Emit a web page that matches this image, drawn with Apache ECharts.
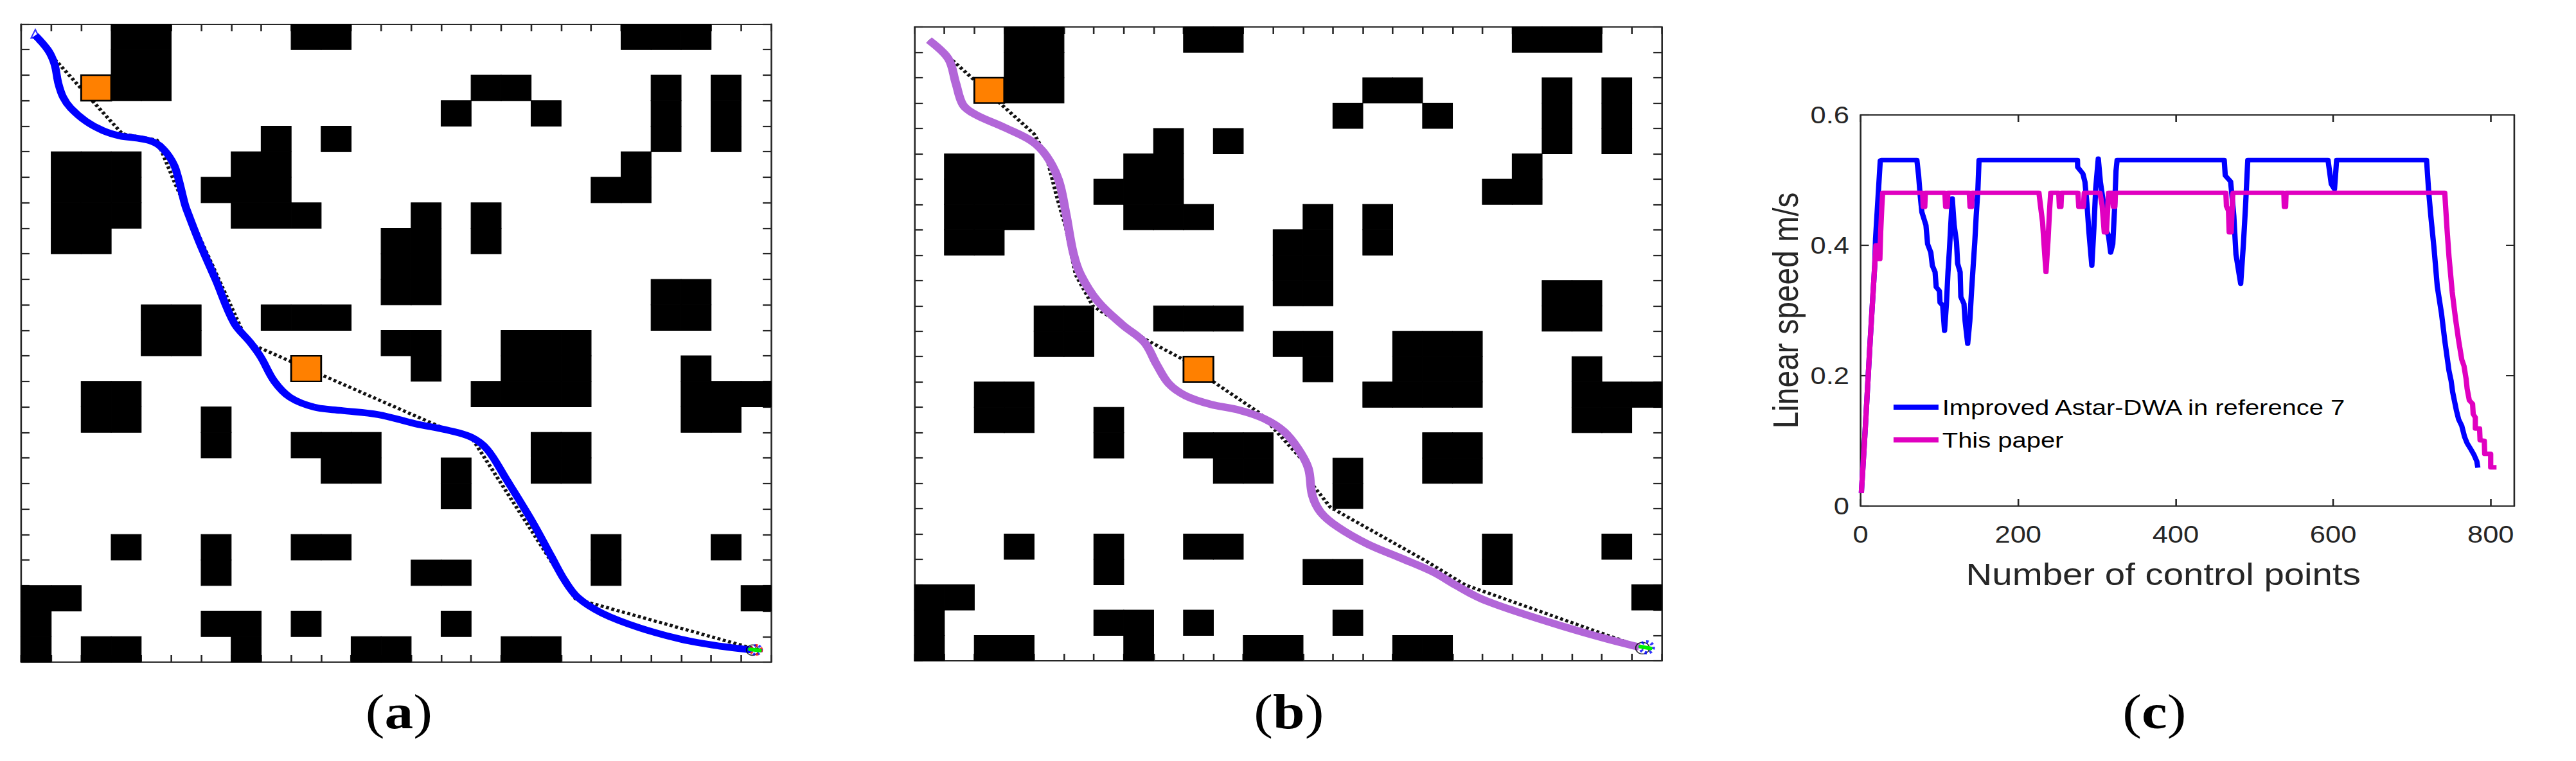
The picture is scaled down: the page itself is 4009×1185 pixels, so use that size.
<!DOCTYPE html>
<html>
<head>
<meta charset="utf-8">
<style>
html,body{margin:0;padding:0;background:#fff;overflow:hidden;width:4009px;height:1185px}
#chart{position:absolute;left:0;top:0;height:1185px;transform-origin:0 0}
</style>
<script src="https://cdn.jsdelivr.net/npm/echarts@6/dist/echarts.min.js"></script>
</head>
<body>
<div id="chart"></div>
<script>
// ---------- data ----------
const obstacleRows = [
"...##....##.........###..",
"...##....................",
"...##..........##....#.#.",
"..............#..#...#.#.",
"........#.#..........#.#.",
".###...##...........#....",
".###..###..........##....",
".###...###...#.#.........",
".##.........##.#.........",
"............##...........",
"............##.......##..",
"....##..###..........##..",
"....##......##..###......",
".............#..###...#..",
"..##...........####...###",
"..##..#...............##.",
"......#..###.....##......",
"..........##..#..##......",
"..............#..........",
".........................",
"...#..#..##........#...#.",
"......#......##....#.....",
"##......................#",
"#.....##.#....#..........",
"#.##...#...##...##......."
];
const orangeCells = [[2,22],[9,11]];

const trajectoryA = [[.47,24.56],[.90,23.97],[1.11,23.43],[1.24,22.67],[1.40,22.13],[1.65,21.71],[2.15,21.2],[2.72,20.83],[3.29,20.62],[3.86,20.53],[4.29,20.43],[4.61,20.24],[4.93,19.82],[5.15,19.32],[5.45,17.97],[5.51,17.75],[5.95,16.42],[6.48,14.99],[7.10,13.28],[7.64,12.52],[7.99,11.95],[8.44,11.0],[8.97,10.37],[9.77,9.99],[10.66,9.86],[11.9,9.70],[13.14,9.34],[14.21,9.09],[15.01,8.81],[15.54,8.33],[16.16,7.19],[17.05,5.48],[17.67,4.15],[18.12,3.2],[18.56,2.53],[19.36,1.92],[20.6,1.35],[22.02,.89],[23.27,.63],[24.33,.48]];
const globalPathA = [[.44,24.5],[3.37,20.7],[4.53,20.45],[5.15,18.7],[7.55,12.52],[14.03,9.19],[15.01,8.81],[18.47,2.49],[19.09,2.28],[24.69,.44]];
const trajectoryB = [[.48,24.48],[1.13,23.75],[1.38,22.79],[1.62,21.93],[2.03,21.55],[3.02,21.03],[3.92,20.5],[4.41,19.92],[4.82,18.97],[5.07,17.63],[5.31,16.1],[5.56,15.23],[6.13,14.18],[6.95,13.26],[7.69,12.56],[8.1,11.69],[8.51,10.93],[9.08,10.45],[9.9,10.12],[10.89,9.88],[11.7,9.55],[12.36,9.05],[12.85,8.34],[13.18,7.58],[13.31,6.53],[13.59,5.86],[14.16,5.28],[15.15,4.61],[16.3,4.04],[17.36,3.5],[18.1,2.99],[18.92,2.47],[20.07,1.97],[21.7,1.36],[23.18,.86],[24.25,.54]];
const globalPathB = [[.48,24.48],[1.3,23.65],[4.0,20.78],[4.41,19.92],[4.74,18.39],[5.07,17.05],[5.39,15.23],[5.97,13.99],[7.77,12.65],[9.0,11.88],[9.98,11.02],[11.54,9.78],[13.02,7.87],[13.34,6.91],[13.92,6.05],[17.11,3.94],[18.43,2.99],[24.41,.5]];
const startPointA = [[.47,24.62]];
const endPointA = [[24.5,.48]];
const goalBlobA = [[24.3,.5],[24.62,.46]];
const endPointB = [[24.5,.53]];
const goalBlobB = [[24.3,.56],[24.62,.49]];

const speedNames = ['Improved Astar-DWA in reference 7','This paper'];
const blueSpeed = [[1,.02],[6,.12],[12,.25],[18,.37],[19,.41],[21,.45],[23,.49],[25,.53],[26.2,.5307],[71.5,.5307],[73.7,.507],[75.6,.4775],[77.8,.451],[83,.431],[85.1,.402],[89.2,.389],[91.1,.369],[94.6,.359],[96,.336],[100.1,.33],[100.9,.312],[104.2,.308],[106.6,.269],[109,.31],[111,.359],[112.9,.395],[114.5,.431],[116.4,.472],[118.8,.431],[121.8,.405],[123.2,.372],[126.4,.359],[127.3,.321],[131.3,.31],[132.7,.284],[136,.249],[138.7,.284],[140.9,.33],[143,.369],[145,.405],[146.8,.445],[149,.487],[150.4,.5307],[275.4,.5307],[275.6,.52],[282.2,.51],[284.9,.497],[287.6,.461],[289.8,.422],[293.6,.369],[296.3,.428],[298.5,.487],[301.8,.533],[304.5,.497],[308,.468],[312.1,.422],[314.8,.415],[317.5,.389],[320.2,.402],[322.4,.454],[324.3,.514],[325.7,.5307],[461.7,.5307],[463,.507],[469.8,.498],[473.9,.445],[476.6,.386],[482.6,.341],[486.1,.403],[488.8,.461],[491.6,.5307],[593.5,.5307],[597.6,.494],[601.7,.486],[604.4,.5307],[718.6,.5307],[721.3,.482],[724,.445],[728.1,.395],[732.2,.337],[737.6,.295],[741.7,.254],[745.1,.2246],[747,.208],[749.8,.192],[751.7,.175],[754.4,.159],[756.6,.146],[759.3,.133],[763.3,.123],[766.9,.106],[770.1,.0965],[775,.0867],[778.8,.0785],[782.4,.0686],[783.7,.0588]];
const magentaSpeed = [[1,.02],[6,.12],[12,.25],[17,.35],[19.5,.40],[21.5,.40],[22.5,.379],[23.5,.40],[24.5,.379],[25.5,.42],[27,.46],[28,.4805],[78.8,.4805],[79.5,.459],[81.5,.459],[82.2,.4805],[107,.4805],[108,.459],[110,.459],[110.8,.4805],[138,.4805],[139,.459],[141,.459],[141.8,.4805],[226.5,.4805],[228.4,.461],[231.1,.435],[233.3,.395],[235.4,.359],[238,.408],[240,.455],[241.4,.4805],[251.6,.4805],[252.4,.459],[254.4,.459],[255.2,.4805],[276,.4805],[277,.459],[283,.459],[284,.4805],[303.9,.4805],[306.7,.461],[309.4,.42],[312.1,.42],[314.8,.4805],[320,.4805],[321,.459],[322.8,.459],[323.6,.4805],[463.8,.4805],[464.5,.46],[467.1,.453],[468,.42],[470.5,.42],[472.5,.478],[473,.4805],[537.4,.4805],[538,.459],[539.6,.459],[540.2,.4805],[741.7,.4805],[744.4,.428],[747.1,.382],[751.2,.328],[755.4,.287],[759.3,.254],[763.3,.2246],[766.1,.215],[768.8,.195],[770.1,.18],[772.9,.162],[777,.157],[777.8,.141],[780.5,.136],[780.5,.119],[785.9,.119],[786.5,.101],[791.9,.1],[792.4,.08],[800,.08],[800,.0594],[807.4,.0594]];
const speedXTicks = [0,200,400,600,800];
const speedYTicks = [0,0.2,0.4,0.6];
const panelCaptions = ['a','b','c'];

// ---------- layout ----------
const K = 1.1747;            // the reference figure is stretched horizontally
const PAGE_W = 4009, PAGE_H = 1185;
const el = document.getElementById('chart');
el.style.width = (PAGE_W / K) + 'px';
el.style.transform = 'scaleX(' + K + ')';
const rectA = {l:33, r:1200, t:37.5, b:1031};
const rectB = {l:1423.3, r:2586, t:42, b:1029};
const rectC = {l:2895.6, r:3913, t:179, b:788};
const captionX = [615, 2000, 3347];
const INK = '#262626';

const gridOf = r => ({left:r.l/K, width:(r.r-r.l)/K, top:r.t, height:r.b-r.t, containLabel:false});
const lineSt = {lineStyle:{color:INK,width:2.2}};
function mapAxis(gridIndex, position){
  return {type:'value',gridIndex,position,min:0,max:25,interval:1,
    axisLine:{show:true,onZero:false,...lineSt},
    axisTick:{show:true,inside:true,length:11,...lineSt},
    axisLabel:{show:false},splitLine:{show:false}};
}
const tickFont = {color:INK,fontFamily:'Liberation Sans',fontSize:37};
function speedAxis(kind, position, labelled, extra){
  const ticks = kind==='x'?speedXTicks:speedYTicks;
  return Object.assign({type:'value',gridIndex:2,position,
    min:0,max:kind==='x'?830:0.6,
    axisLine:{show:true,onZero:false,...lineSt},
    axisTick:{show:true,inside:true,length:11,customValues:ticks,...lineSt},
    axisLabel:{show:labelled,customValues:ticks,...tickFont,margin:kind==='x'?26:15,
      formatter:v=>String(v)},
    splitLine:{show:false}},extra||{});
}
const nameFont = {color:INK,fontFamily:'Liberation Sans',fontSize:48};
const xAxes = [mapAxis(0,'bottom'),mapAxis(0,'top'),mapAxis(1,'bottom'),mapAxis(1,'top'),
  speedAxis('x','bottom',true,{name:'Number of control points',nameLocation:'middle',nameGap:82,
    nameTextStyle:{...nameFont,padding:[0,64,0,0]}}),
  speedAxis('x','top',false)];
const yAxes = [mapAxis(0,'left'),mapAxis(0,'right'),mapAxis(1,'left'),mapAxis(1,'right'),
  speedAxis('y','left',true,{name:'Linear speed m/s',nameLocation:'middle',nameRotate:90,nameGap:76,nameTextStyle:nameFont}),
  speedAxis('y','right',false)];

const obstacleCells = [];
obstacleRows.forEach((row,r)=>{
  for(let c=0;c<row.length;c++) if(row[c]==='#') obstacleCells.push([c,24-r]);
});
function cellSeries(axis,data,fill,stroke,lw,z){
  return {type:'custom',xAxisIndex:axis,yAxisIndex:axis,z,silent:true,clip:false,
    encode:{x:0,y:1},data,
    renderItem(params,api){
      const p=api.coord([api.value(0),api.value(1)+1]);
      const s=api.size([1,1]);
      return {type:'rect',shape:{x:p[0],y:p[1],width:s[0],height:s[1]},
        style:{fill,stroke,lineWidth:lw}};
    }};
}
function polyline(axis,data,opts){
  return Object.assign({type:'line',xAxisIndex:axis,yAxisIndex:axis,data,symbol:'none',silent:true,clip:false,animation:false},opts);
}
function marker(axis,data,opts){
  return Object.assign({type:'scatter',xAxisIndex:axis,yAxisIndex:axis,data,silent:true,clip:false},opts);
}
function mapPanel(axis,traj,route,color,width,endLayers,blob){
  return [
    cellSeries(axis,obstacleCells,'#000','#000',1,2),
    polyline(axis,route,{z:3,lineStyle:{color:'#111',width:5,type:[4,3.4]}}),
    cellSeries(axis,orangeCells,'#FF8000','#000',2.4,4),
    polyline(axis,traj,{z:5,smooth:0.35,lineStyle:{color,width,cap:'butt'}}),
    ...endLayers,
    polyline(axis,blob,{z:9,lineStyle:{color:'#00F000',width:6,cap:'round'}})
  ];
}
const hollow = (size,color,lw,dash)=>({symbol:'circle',symbolSize:size,
  itemStyle:{color:'transparent',borderColor:color,borderWidth:lw,borderType:dash||'solid'}});

const series = [
  ...mapPanel(0,trajectoryA,globalPathA,'#0000FF',10.5,[
    marker(0,[[24.38,.47]],{z:6,...hollow(16,'#000',1.5)}),
    marker(0,endPointA,{z:7,...hollow(14,'#0000FF',4,[3,3])}),
    marker(0,endPointA,{z:8,...hollow(14,'#FF0000',4,[3,5])}),
    marker(0,startPointA,{z:6,symbol:'triangle',symbolSize:[11,13],
      itemStyle:{color:'transparent',borderColor:'#0000FF',borderWidth:2}})
  ],goalBlobA),
  ...mapPanel(2,trajectoryB,globalPathB,'#B266D8',11.5,[
    marker(2,[[24.36,.5]],{z:6,...hollow(18,'#000',1.5)}),
    marker(2,endPointB,{z:7,...hollow(17,'#0000FF',5,[3,3.5])})
  ],goalBlobB),
  {name:speedNames[0],type:'line',xAxisIndex:4,yAxisIndex:4,data:blueSpeed,symbol:'none',silent:true,z:3,
    lineStyle:{color:'#0000FF',width:7,join:'round'},itemStyle:{color:'#0000FF'}},
  {name:speedNames[1],type:'line',xAxisIndex:4,yAxisIndex:4,data:magentaSpeed,symbol:'none',silent:true,z:4,
    lineStyle:{color:'#E000C0',width:7,join:'round'},itemStyle:{color:'#E000C0'}}
];
// the map panels use axis indexes 0 and 2 of six axes; the speed panel uses index 4

const chart = echarts.init(el,null,{renderer:'svg'});
chart.setOption({
  animation:false,
  backgroundColor:'#fff',
  grid:[gridOf(rectA),gridOf(rectB),gridOf(rectC)],
  xAxis:xAxes,yAxis:yAxes,
  legend:{show:true,orient:'vertical',left:2941/K,top:612,data:speedNames,icon:'rect',
    itemWidth:70/K,itemHeight:8,itemGap:17,selectedMode:false,
    textStyle:{color:'#000',fontFamily:'Liberation Sans',fontSize:34}},
  title:panelCaptions.map((c,i)=>({
    left:captionX[i]/K,top:1065,textAlign:'center',
    text:'{p|(}{b|'+c+'}{p|)}',
    textStyle:{fontWeight:'normal',rich:{
      p:{fontFamily:'Liberation Serif',fontSize:76,fontWeight:'normal',color:'#000'},
      b:{fontFamily:'Liberation Serif',fontSize:76,fontWeight:'bold',color:'#000'}}}
  })),
  series
});
</script>
</body>
</html>
